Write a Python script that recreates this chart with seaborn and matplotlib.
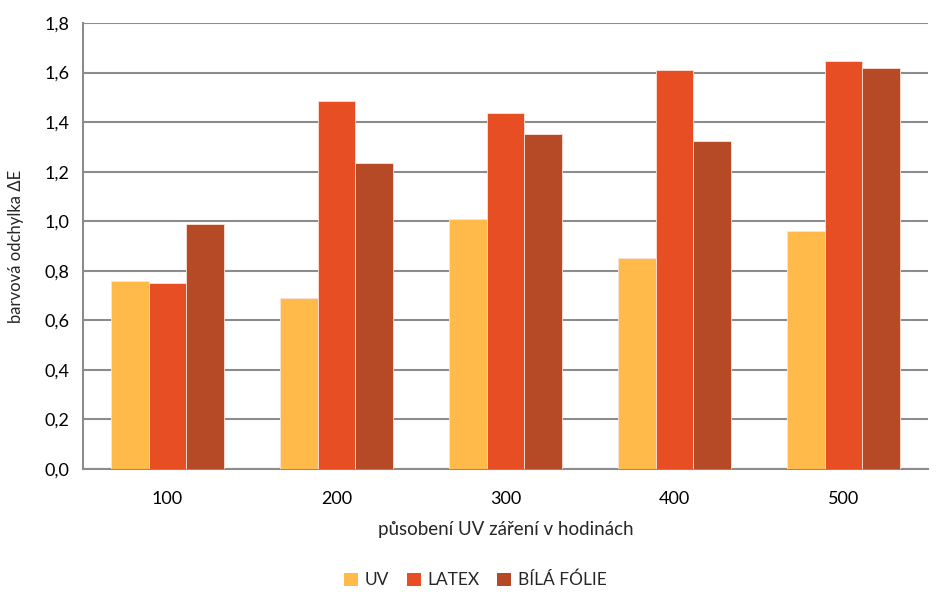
import matplotlib
matplotlib.use("Agg")
import matplotlib.pyplot as plt
import matplotlib.ticker as mticker
from matplotlib.patches import Patch
import seaborn as sns
import pandas as pd

hours = ["100", "200", "300", "400", "500"]
uv = [0.76, 0.69, 1.01, 0.85, 0.96]
latex = [0.75, 1.485, 1.435, 1.61, 1.645]
bila_folie = [0.99, 1.235, 1.35, 1.325, 1.62]
series_names = ["UV", "LATEX", "BÍLÁ FÓLIE"]
colors = ["#FFBA49", "#E84E23", "#B64926"]

df = pd.DataFrame({
    "hodiny": hours * 3,
    "serie": [series_names[0]] * 5 + [series_names[1]] * 5 + [series_names[2]] * 5,
    "dE": uv + latex + bila_folie,
})

sns.set_theme(style="white")
plt.rcParams["font.family"] = ["Lato", "DejaVu Sans"]

fig = plt.figure(figsize=(9.36, 5.92), dpi=100)
ax = fig.add_axes([83 / 936, 1 - 469 / 592, 845 / 936, 446 / 592])

sns.barplot(data=df, x="hodiny", y="dE", hue="serie", order=hours,
            hue_order=series_names, palette=colors, width=0.667,
            edgecolor="#FBE3D8", linewidth=0.6, ax=ax, legend=False,
            saturation=1, zorder=3)

ax.set_ylim(0, 1.8)
ax.set_xlim(-0.5, 4.5)
ax.yaxis.set_major_locator(mticker.MultipleLocator(0.2))
ax.yaxis.set_major_formatter(mticker.FuncFormatter(lambda v, p: f"{v:.1f}".replace(".", ",")))
ax.grid(axis="y", color="#8C8C8C", linewidth=1.5, zorder=0)
ax.set_axisbelow(True)

for s in ["top", "right"]:
    ax.spines[s].set_visible(False)
for s in ["left", "bottom"]:
    ax.spines[s].set_color("#8C8C8C")
    ax.spines[s].set_linewidth(1.5)

ax.tick_params(axis="y", length=0, labelsize=13, colors="#000000", pad=10)
ax.tick_params(axis="x", length=0, labelsize=13, colors="#000000", pad=16)
ax.set_xticks(range(len(hours)), hours)
ax.set_xticks([-0.5, 0.5, 1.5, 2.5, 3.5, 4.5], minor=True)
ax.tick_params(axis="x", which="minor", length=8, width=1.5, color="#8C8C8C", direction="out")

ax.set_xlabel("působení UV záření v hodinách", fontsize=13.5, labelpad=10)
ax.set_ylabel("barvová odchylka ΔE", fontsize=12, labelpad=8)
ax.yaxis.set_label_coords(-59 / 845, 0.5)

handles = [Patch(facecolor=c, edgecolor="none") for c in colors]
fig.legend(handles, series_names, loc="center", bbox_to_anchor=(0.508, 1 - 580 / 592),
           ncol=3, frameon=False, fontsize=12.5, handlelength=0.8, handleheight=0.8,
           handletextpad=0.4, columnspacing=1.0)

fig.savefig("out.png", dpi=100)
